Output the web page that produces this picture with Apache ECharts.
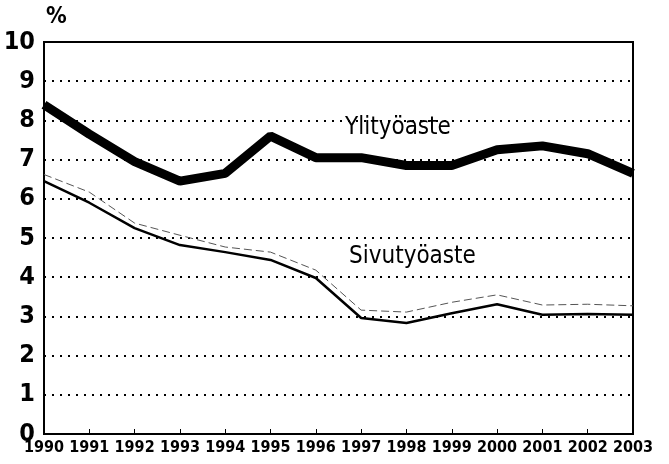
<!DOCTYPE html>
<html>
<head>
<meta charset="utf-8">
<script src="https://cdn.jsdelivr.net/npm/echarts@6/dist/echarts.min.js"></script>
<style>
  html, body { margin: 0; padding: 0; background: #fff; }
  #chart { width: 669px; height: 464px; }
</style>
</head>
<body>
<div id="chart"></div>
<script>
const years = ['1990', '1991', '1992', '1993', '1994', '1995', '1996', '1997', '1998', '1999', '2000', '2001', '2002', '2003']
const ylityoaste = [8.4, 7.65, 6.95, 6.45, 6.65, 7.6, 7.05, 7.05, 6.85, 6.85, 7.25, 7.35, 7.15, 6.65]
const sivutyoLower = [6.45, 5.9, 5.25, 4.82, 4.64, 4.44, 3.98, 2.96, 2.83, 3.08, 3.31, 3.04, 3.06, 3.04]
const sivutyoUpper = [6.62, 6.17, 5.38, 5.07, 4.77, 4.64, 4.18, 3.16, 3.11, 3.36, 3.55, 3.29, 3.31, 3.27]
const yTicks = [0, 1, 2, 3, 4, 5, 6, 7, 8, 9, 10]

const font = "'DejaVu Sans Condensed', 'Liberation Sans Narrow', 'Roboto', sans-serif"

const chart = echarts.init(document.getElementById('chart'))

const option = {
  animation: false,
  backgroundColor: '#fff',
  grid: {
    left: 44,
    right: 36,
    top: 42,
    bottom: 30,
    show: true,
    borderColor: '#000',
    borderWidth: 2
  },
  xAxis: {
    type: 'category',
    boundaryGap: false,
    data: years,
    axisLine: { lineStyle: { color: '#000', width: 2 } },
    axisTick: { show: true, inside: true, length: 5, lineStyle: { color: '#000' } },
    axisLabel: {
      color: '#000',
      fontFamily: font,
      fontWeight: 'bold',
      fontSize: 16,
      margin: 6,
      interval: 0
    },
    splitLine: { show: false }
  },
  yAxis: {
    type: 'value',
    min: yTicks[0],
    max: yTicks[yTicks.length - 1],
    interval: 1,
    axisLine: { show: true, lineStyle: { color: '#000', width: 2 } },
    axisTick: { show: false },
    axisLabel: {
      color: '#000',
      fontFamily: font,
      fontWeight: 'bold',
      fontSize: 25,
      margin: 9
    },
    splitLine: {
      show: true,
      lineStyle: { color: '#000', type: [2, 6], width: 2 }
    }
  },
  series: [{
    name: 'Ylityöaste',
    type: 'line',
    data: ylityoaste,
    symbol: 'none',
    lineStyle: { color: '#000', width: 9 }
  }, {
    name: 'Sivutyöaste upper',
    type: 'line',
    data: sivutyoUpper,
    symbol: 'none',
    lineStyle: { color: '#555', width: 1, type: [8, 4] }
  }, {
    name: 'Sivutyöaste',
    type: 'line',
    data: sivutyoLower,
    symbol: 'none',
    lineStyle: { color: '#000', width: 2.5 }
  }],
  graphic: [{
    type: 'text',
    left: 46,
    top: 6,
    style: { text: '%', fontFamily: font, fontWeight: 'bold', fontSize: 23, fill: '#000' }
  }, {
    type: 'text',
    left: 345,
    top: 116,
    style: { text: 'Ylityöaste', fontFamily: font, fontSize: 24, fill: '#000' }
  }, {
    type: 'text',
    left: 349,
    top: 245,
    style: { text: 'Sivutyöaste', fontFamily: font, fontSize: 24, fill: '#000' }
  }]
}

chart.setOption(option)
</script>
</body>
</html>
